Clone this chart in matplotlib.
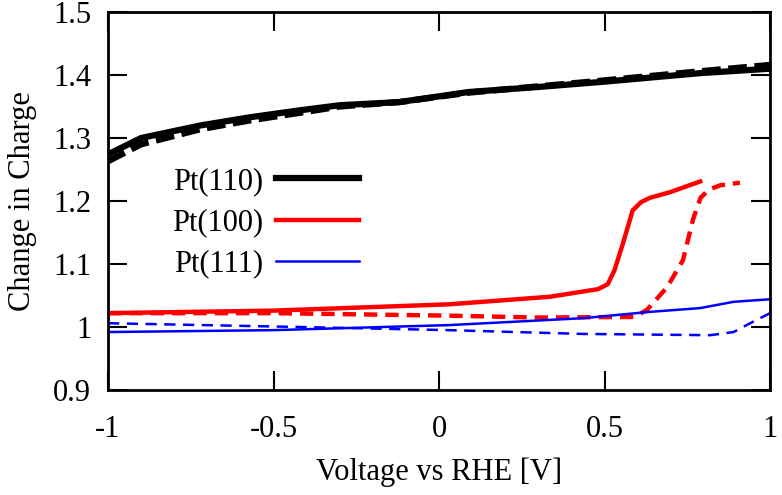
import matplotlib
matplotlib.use("Agg")
from matplotlib import pyplot as plt
from matplotlib.ticker import FuncFormatter, MultipleLocator
from matplotlib.lines import Line2D

# Pt(110)
v110_up = [-1.0, -0.9, -0.72, -0.57, -0.42, -0.30, -0.12, 0.09, 0.3, 0.49, 0.79, 1.0]
q110_up = [1.274, 1.300, 1.320, 1.333, 1.344, 1.352, 1.357, 1.373, 1.381, 1.389, 1.403, 1.410]
v110_dn = [-1.0, -0.9, -0.72, -0.57, -0.42, -0.30, -0.12, 0.09, 0.3, 0.49, 0.79, 1.0]
q110_dn = [1.263, 1.290, 1.314, 1.328, 1.340, 1.350, 1.357, 1.372, 1.382, 1.391, 1.406, 1.416]

# Pt(100)
v100_up = [-1.0, -0.5, 0.03, 0.335, 0.48, 0.51, 0.53, 0.556, 0.585, 0.61, 0.637, 0.698, 0.789]
q100_up = [1.022, 1.026, 1.036, 1.048, 1.060, 1.068, 1.09, 1.133, 1.185, 1.198, 1.205, 1.214, 1.231]
v100_dn = [-1.0, -0.5, 0.03, 0.3, 0.59, 0.628, 0.689, 0.737, 0.767, 0.79, 0.815, 0.85, 0.909]
q100_dn = [1.022, 1.022, 1.018, 1.015, 1.016, 1.027, 1.063, 1.106, 1.17, 1.205, 1.218, 1.225, 1.229]

# Pt(111)
v111_up = [-1.0, -0.5, 0.03, 0.435, 0.637, 0.789, 0.89, 1.0]
q111_up = [0.992, 0.995, 1.003, 1.014, 1.024, 1.030, 1.040, 1.044]
v111_dn = [-1.0, -0.42, 0.03, 0.435, 0.82, 0.89, 0.94, 1.0]
q111_dn = [1.006, 1.000, 0.995, 0.989, 0.987, 0.992, 1.006, 1.022]

labels = ["Pt(110)", "Pt(100)", "Pt(111)"]

plt.rcParams["font.family"] = ["Liberation Serif", "DejaVu Serif"]
plt.rcParams["font.size"] = 22

fig = plt.figure(figsize=(7.82, 4.95), dpi=100)
ax = fig.add_axes([108 / 782, 105 / 495, 662 / 782, 378 / 495])

ax.plot(v110_up, q110_up, color="black", lw=4.5, solid_capstyle="butt")
ax.plot(v110_dn, q110_dn, color="black", lw=4.5, ls=(0, (3, 1.2)))
ax.plot(v100_up, q100_up, color="#ff0000", lw=3.2)
ax.plot(v100_dn, q100_dn, color="#ff0000", lw=3.2, ls=(0, (3, 1.8)))
ax.plot(v111_up, q111_up, color="#0000ff", lw=1.8)
ax.plot(v111_dn, q111_dn, color="#0000ff", lw=1.8, ls=(0, (4.5, 3)))

ax.set_xlim(-1, 1)
ax.set_ylim(0.9, 1.5)
ax.xaxis.set_major_locator(MultipleLocator(0.5))
ax.yaxis.set_major_locator(MultipleLocator(0.1))
fmt = FuncFormatter(lambda v, p: "%g" % round(v, 2))
ax.xaxis.set_major_formatter(fmt)
ax.yaxis.set_major_formatter(fmt)
ax.tick_params(direction="in", length=14, width=1.5, top=True, right=True, pad=12)
ax.tick_params(axis="x", pad=18)
for s in ax.spines.values():
    s.set_linewidth(2)

ax.set_xlabel("Voltage vs RHE [V]", labelpad=10)
ax.set_ylabel("Change in Charge", labelpad=12)

handles = [Line2D([], [], color="black", lw=4.5),
           Line2D([], [], color="#ff0000", lw=3.2),
           Line2D([], [], color="#0000ff", lw=1.8)]
ax.legend(handles, labels, markerfirst=False, frameon=False, loc="upper left",
          bbox_to_anchor=(0.097, 0.59), handlelength=2.7, labelspacing=0.4,
          handletextpad=0.42, borderaxespad=0, borderpad=0)

fig.savefig("out.png", dpi=100)
